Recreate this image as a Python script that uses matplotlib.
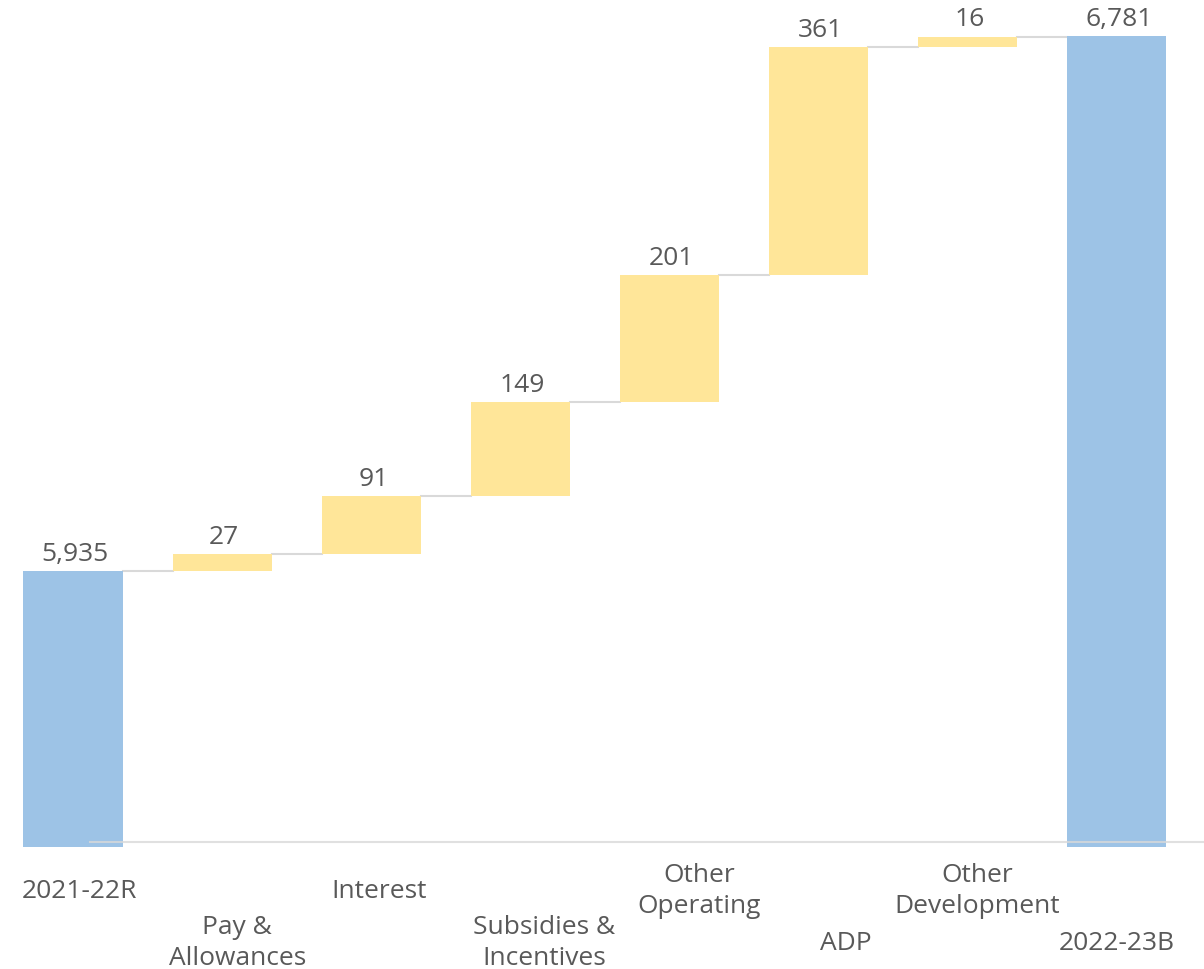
import matplotlib.pyplot as plt
from matplotlib.transforms import blended_transform_factory, offset_copy

plt.rcParams['font.family'] = ['Open Sans', 'DejaVu Sans']

# waterfall data
categories = ['2021-22R', 'Pay &\nAllowances', 'Interest', 'Subsidies &\nIncentives',
              'Other\nOperating', 'ADP', 'Other\nDevelopment', '2022-23B']
start_total = 5935
changes = [27, 91, 149, 201, 361, 16]
end_total = 6781
value_labels = ['5,935', '27', '91', '149', '201', '361', '16', '6,781']

# horizontal nudge of category labels (pixels), as in the original layout
label_dx = [6, 15, 8, 24, 30, 27, 9, 0]

base = 5498
blue = '#9DC3E6'
yellow = '#FFE699'
text_col = '#595959'
grid_col = '#D9D9D9'

fig = plt.figure(figsize=(12.04, 9.69), dpi=100)
ax = fig.add_axes([0, 0, 1, 1])
ax.set_xlim(-0.4895, 7.584)
ax.set_ylim(5305.6, 6837.9)
ax.axis('off')

width = 0.664

# bottoms / heights
bottoms = [base]
heights = [start_total - base]
tops = [start_total]
running = start_total
for c in changes:
    bottoms.append(running)
    heights.append(c)
    running += c
    tops.append(running)
bottoms.append(base)
heights.append(end_total - base)
tops.append(end_total)

colors = [blue] + [yellow] * len(changes) + [blue]
ax.bar(range(len(categories)), heights, bottom=bottoms, width=width,
       color=colors, zorder=2)

# connectors
levels = [start_total]
for c in changes:
    levels.append(levels[-1] + c)
for i in range(len(categories) - 1):
    ax.plot([i + width / 2, i + 1 - width / 2], [levels[i], levels[i]],
            color=grid_col, lw=1.5, zorder=1)

# baseline
ax.axhline(5506, xmin=90 / 1204, xmax=1, color='#D9D9D9', lw=1.5, alpha=0.8, zorder=3)

# value labels
for i, lab in enumerate(value_labels):
    ax.annotate(lab, (i, tops[i]), xytext=(1.5, 3), textcoords='offset points',
                ha='center', va='bottom', fontsize=19, color=text_col)

# category labels, staggered
trans = blended_transform_factory(ax.transData, fig.transFigure)
for i, cat in enumerate(categories):
    y = 1 - 891 / 969 if i % 2 == 0 else 1 - 943 / 969
    t = offset_copy(trans, fig=fig, x=label_dx[i], y=0, units='dots')
    ax.text(i, y, cat, transform=t, ha='center', va='center',
            fontsize=19, color=text_col, linespacing=1.34)

fig.savefig('out.png', dpi=100)
